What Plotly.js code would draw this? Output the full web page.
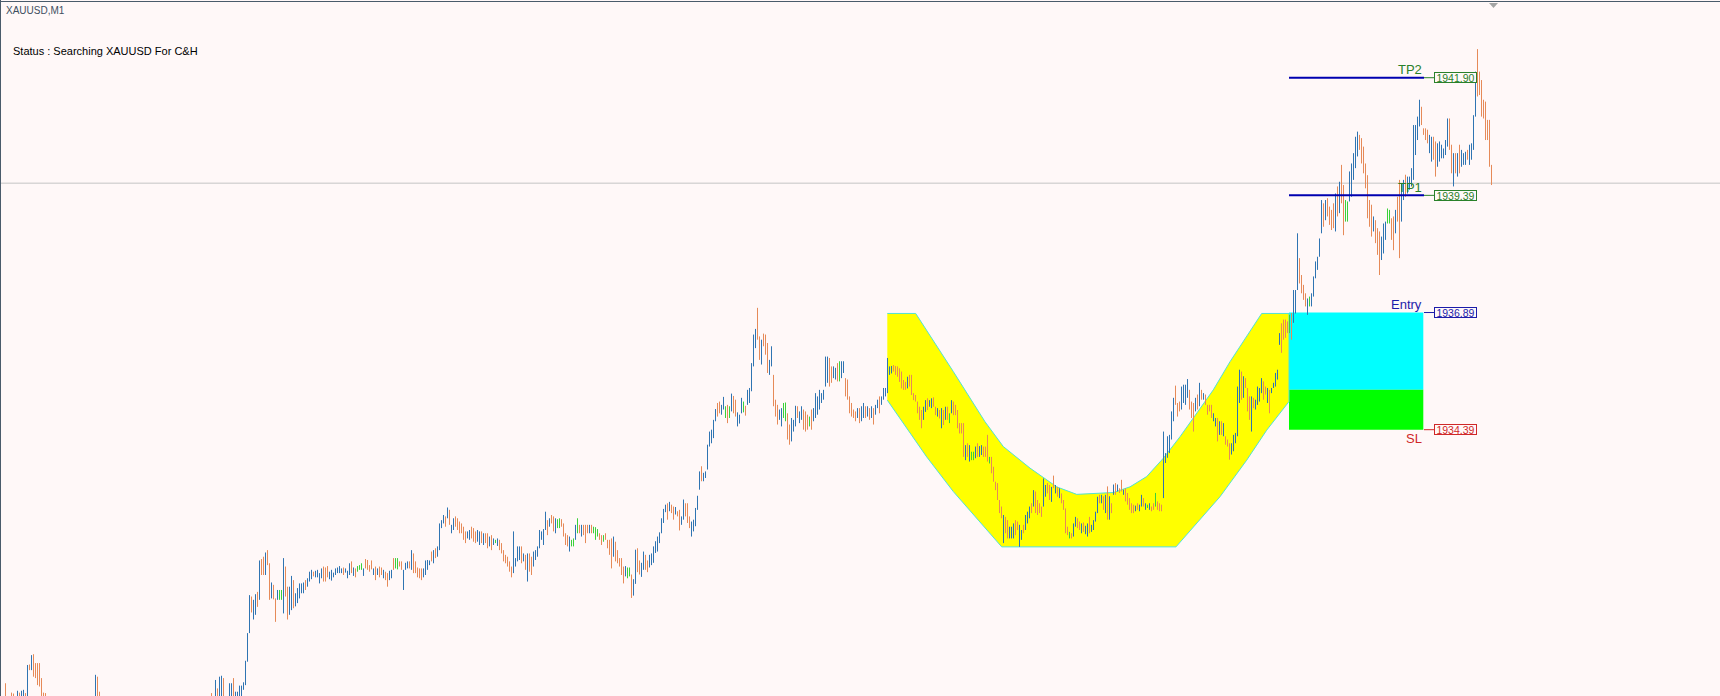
<!DOCTYPE html>
<html><head><meta charset="utf-8">
<script src="https://cdn.plot.ly/plotly-3.0.1.min.js"></script>
<style>html,body{margin:0;padding:0;background:#fff8f8;overflow:hidden}#chart{width:1720px;height:696px}</style>
</head><body><div id="chart"></div>
<script>
// ---------- data ----------
const symbolLabel = "XAUUSD,M1";
const statusText = "Status : Searching XAUUSD For C&H";

// M1 bars, left to right (index = bar number)
const barHigh = [
1928.55,1928.60,1928.98,1928.62,1928.58,1928.78,1928.76,1928.65,1928.82,1928.78,
1928.82,1928.84,1928.77,1929.37,1929.38,1929.58,1929.60,1929.41,1929.41,1929.41,
1929.09,1928.78,1928.77,1928.60,1928.52,1928.55,1928.48,1928.40,1928.45,1928.50,
1928.42,1928.35,1928.30,1928.38,1928.44,1928.40,1928.33,1928.28,1928.36,1928.45,
1928.52,1928.47,1928.55,1928.60,1928.58,1928.62,1928.66,1929.16,1929.12,1928.80,
1928.62,1928.55,1928.50,1928.46,1928.40,1928.35,1928.42,1928.38,1928.30,1928.25,
1928.20,1928.28,1928.33,1928.30,1928.24,1928.18,1928.12,1928.20,1928.26,1928.22,
1928.15,1928.10,1928.16,1928.24,1928.30,1928.26,1928.20,1928.14,1928.08,1928.15,
1928.22,1928.28,1928.34,1928.30,1928.25,1928.32,1928.38,1928.44,1928.40,1928.35,
1928.42,1928.48,1928.45,1928.50,1928.55,1928.52,1928.46,1928.40,1928.45,1928.52,
1928.58,1928.55,1928.60,1928.64,1928.62,1928.77,1928.62,1929.05,1928.87,1929.12,
1929.14,1929.09,1928.68,1928.66,1928.98,1928.98,1929.09,1928.80,1928.80,1928.93,
1928.93,1929.00,1929.46,1930.05,1930.86,1930.83,1930.76,1930.88,1930.93,1931.60,
1931.63,1931.68,1931.77,1931.82,1931.54,1931.13,1931.08,1930.79,1930.97,1930.97,
1930.97,1931.65,1931.47,1931.04,1931.04,1931.27,1931.18,1930.90,1931.01,1931.11,
1931.11,1931.13,1931.18,1931.22,1931.36,1931.40,1931.36,1931.38,1931.40,1931.33,
1931.43,1931.47,1931.45,1931.48,1931.36,1931.40,1931.34,1931.43,1931.45,1931.48,
1931.43,1931.45,1931.43,1931.38,1931.54,1931.58,1931.45,1931.43,1931.48,1931.50,
1931.54,1931.43,1931.63,1931.61,1931.50,1931.60,1931.43,1931.47,1931.43,1931.47,
1931.45,1931.40,1931.36,1931.33,1931.38,1931.40,1931.65,1931.65,1931.65,1931.58,
1931.58,1931.40,1931.55,1931.58,1931.58,1931.82,1931.75,1931.58,1931.45,1931.43,
1931.43,1931.43,1931.60,1931.61,1931.60,1931.79,1931.82,1931.86,1931.90,1932.39,
1932.46,1932.57,1932.54,1932.73,1932.68,1932.36,1932.50,1932.54,1932.50,1932.43,
1932.39,1932.32,1932.22,1932.22,1932.25,1932.32,1932.29,1932.22,1932.25,1932.22,
1932.22,1932.18,1932.18,1932.18,1932.11,1932.14,1932.07,1932.04,1932.07,1932.04,
1931.97,1931.82,1931.72,1931.68,1931.58,1931.47,1932.22,1931.65,1931.90,1931.90,
1931.90,1931.75,1931.72,1931.75,1931.75,1931.68,1931.79,1931.82,1931.90,1932.25,
1932.22,1932.27,1932.64,1932.46,1932.50,1932.57,1932.54,1932.50,1932.48,1932.50,
1932.48,1932.39,1932.18,1932.14,1932.11,1932.04,1932.07,1932.36,1932.50,1932.36,
1932.36,1932.36,1932.36,1932.36,1932.36,1932.36,1932.32,1932.31,1932.27,1932.18,
1932.14,1932.14,1932.18,1932.04,1932.04,1932.07,1932.11,1932.00,1931.82,1931.65,
1931.65,1931.47,1931.48,1931.45,1931.45,1931.30,1931.20,1931.83,1931.86,1931.60,
1931.55,1931.79,1931.72,1931.60,1931.72,1931.75,1931.90,1932.01,1932.11,1932.20,
1932.50,1932.70,1932.79,1932.82,1932.85,1932.79,1932.75,1932.74,1932.65,1932.68,
1932.54,1932.90,1932.82,1932.82,1932.54,1932.43,1932.47,1932.72,1932.98,1933.50,
1933.61,1933.47,1933.50,1934.07,1934.35,1934.39,1934.60,1934.83,1934.96,1934.99,
1934.92,1935.09,1934.89,1934.92,1934.89,1935.16,1935.11,1935.03,1934.76,1934.71,
1935.07,1934.99,1934.90,1935.24,1935.28,1935.81,1936.42,1936.54,1936.99,1936.38,
1936.31,1936.44,1936.42,1936.24,1935.88,1936.17,1935.56,1935.03,1934.92,1934.82,
1934.85,1934.96,1934.97,1934.74,1934.50,1934.64,1934.60,1934.90,1934.89,1934.78,
1934.89,1934.82,1934.78,1934.71,1934.67,1934.82,1934.85,1935.17,1935.10,1935.24,
1935.17,1935.24,1935.95,1935.95,1935.92,1935.74,1935.74,1935.71,1935.81,1935.85,
1935.85,1935.85,1935.49,1935.46,1935.10,1934.96,1934.82,1934.78,1934.85,1934.85,
1934.89,1934.96,1934.89,1934.89,1934.85,1934.89,1934.85,1934.92,1935.03,1935.10,
1935.10,1935.28,1935.28,1935.92,1935.74,1935.75,1935.77,1935.75,1935.74,1935.70,
1935.63,1935.45,1935.41,1935.52,1935.56,1935.56,1935.17,1935.13,1934.99,1934.88,
1934.81,1934.88,1935.02,1935.06,1935.02,1935.06,1935.08,1934.88,1934.85,1934.81,
1934.85,1934.81,1934.88,1934.88,1934.74,1935.02,1934.99,1934.92,1934.81,1934.53,
1934.53,1934.53,1934.06,1934.10,1934.06,1933.92,1933.92,1934.03,1934.10,1934.04,
1934.06,1934.03,1934.03,1934.28,1933.81,1933.81,1933.60,1933.28,1933.25,1932.89,
1932.75,1932.57,1932.53,1932.46,1932.32,1932.32,1932.39,1932.46,1932.43,1932.36,
1932.25,1932.36,1932.57,1932.64,1932.75,1932.82,1933.10,1933.07,1932.89,1932.82,
1932.75,1933.35,1933.21,1933.25,1933.21,1933.17,1933.41,1933.21,1933.17,1933.14,
1933.03,1932.89,1932.71,1932.32,1932.21,1932.18,1932.39,1932.53,1932.50,1932.43,
1932.39,1932.41,1932.34,1932.39,1932.53,1932.36,1932.46,1932.64,1932.96,1933.00,
1933.00,1932.97,1933.00,1933.18,1932.97,1932.82,1933.22,1933.25,1933.22,1933.14,
1933.32,1933.11,1933.14,1933.04,1932.93,1932.82,1932.79,1932.77,1932.82,1932.79,
1933.00,1932.93,1932.82,1932.79,1932.82,1932.75,1932.82,1933.04,1932.86,1932.82,
1932.79,1934.35,1933.89,1934.25,1934.28,1934.78,1935.07,1935.33,1934.96,1934.99,
1935.31,1935.35,1935.35,1935.47,1935.24,1934.99,1934.96,1935.07,1935.14,1935.39,
1935.24,1935.17,1935.14,1934.92,1934.92,1934.92,1934.74,1934.64,1934.64,1934.57,
1934.57,1934.53,1934.25,1934.18,1934.10,1934.10,1934.28,1934.32,1935.31,1935.67,
1935.63,1935.53,1935.49,1935.28,1935.10,1935.10,1935.07,1935.03,1935.31,1935.28,
1935.49,1935.42,1935.31,1935.28,1935.24,1935.28,1935.39,1935.60,1935.67,1936.45,
1936.66,1936.74,1936.74,1936.70,1936.84,1936.88,1937.37,1937.37,1938.58,1938.05,
1937.69,1937.48,1937.30,1937.19,1937.23,1937.30,1937.66,1937.98,1938.08,1938.47,
1939.29,1939.22,1939.29,1939.33,1939.15,1939.08,1939.22,1939.43,1939.58,1939.68,
1940.04,1939.61,1939.29,1939.26,1939.90,1940.07,1940.29,1940.64,1940.75,1940.68,
1940.61,1940.43,1940.07,1939.82,1939.29,1939.19,1938.94,1938.86,1938.69,1938.62,
1938.51,1938.79,1938.83,1939.11,1939.08,1938.90,1938.94,1939.08,1939.36,1939.72,
1939.65,1939.72,1939.83,1939.79,1939.79,1939.97,1940.89,1940.89,1941.07,1941.43,
1941.28,1940.82,1940.82,1940.79,1940.68,1940.64,1940.64,1940.54,1940.50,1940.54,
1940.47,1940.39,1940.57,1941.03,1941.03,1940.47,1940.29,1940.29,1940.29,1940.47,
1940.36,1940.29,1940.32,1940.36,1940.47,1940.50,1941.10,1942.03,1942.51,1942.03,
1941.85,1941.43,1941.39,1941.00,1941.00,1940.04
];
const barLow = [
1928.30,1928.35,1928.45,1928.40,1928.38,1928.50,1928.50,1928.45,1928.55,1928.55,
1928.55,1928.60,1928.55,1928.60,1929.26,1929.26,1929.12,1929.09,1928.94,1928.91,
1928.60,1928.50,1928.45,1928.35,1928.30,1928.28,1928.20,1928.15,1928.18,1928.25,
1928.12,1928.05,1928.02,1928.10,1928.16,1928.12,1928.08,1928.00,1928.06,1928.15,
1928.22,1928.20,1928.25,1928.30,1928.32,1928.35,1928.38,1928.55,1928.50,1928.45,
1928.35,1928.30,1928.22,1928.18,1928.10,1928.05,1928.12,1928.08,1928.00,1927.95,
1927.90,1927.98,1928.05,1928.02,1927.96,1927.90,1927.85,1927.92,1927.98,1927.95,
1927.88,1927.82,1927.88,1927.95,1928.00,1927.98,1927.92,1927.86,1927.80,1927.85,
1927.94,1928.00,1928.06,1928.04,1927.98,1928.05,1928.10,1928.15,1928.12,1928.08,
1928.14,1928.20,1928.18,1928.22,1928.28,1928.26,1928.20,1928.14,1928.18,1928.24,
1928.30,1928.28,1928.32,1928.36,1928.38,1928.45,1928.40,1928.55,1928.55,1928.60,
1928.65,1928.60,1928.40,1928.40,1928.55,1928.60,1928.60,1928.55,1928.55,1928.60,
1928.62,1928.84,1928.94,1929.44,1930.05,1930.49,1930.34,1930.44,1930.61,1930.76,
1931.29,1931.29,1931.29,1931.50,1930.76,1930.79,1930.77,1930.29,1930.76,1930.76,
1930.76,1930.47,1930.83,1930.34,1930.44,1930.54,1930.58,1930.62,1930.69,1930.79,
1930.90,1930.90,1930.97,1931.04,1931.15,1931.20,1931.26,1931.24,1931.24,1931.11,
1931.22,1931.15,1931.15,1931.24,1931.20,1931.17,1931.24,1931.29,1931.33,1931.33,
1931.33,1931.29,1931.34,1931.22,1931.29,1931.33,1931.27,1931.24,1931.36,1931.40,
1931.40,1931.27,1931.43,1931.40,1931.36,1931.41,1931.29,1931.18,1931.29,1931.24,
1931.29,1931.22,1931.18,1931.04,1931.18,1931.22,1931.40,1931.43,1931.41,1931.47,
1931.40,1930.97,1931.40,1931.43,1931.43,1931.40,1931.33,1931.33,1931.24,1931.22,
1931.18,1931.24,1931.29,1931.40,1931.50,1931.58,1931.54,1931.65,1931.68,1931.82,
1932.29,1932.39,1932.32,1932.50,1932.36,1932.18,1932.25,1932.32,1932.25,1932.18,
1932.18,1932.04,1931.97,1932.07,1932.04,1932.07,1932.00,1931.97,1932.00,1931.93,
1931.97,1931.93,1931.97,1931.86,1931.90,1931.82,1931.93,1931.97,1931.91,1931.82,
1931.75,1931.58,1931.54,1931.47,1931.36,1931.24,1931.33,1931.47,1931.58,1931.61,
1931.54,1931.58,1931.40,1931.15,1931.36,1931.29,1931.47,1931.61,1931.68,1931.86,
1932.04,1931.93,1932.25,1932.14,1932.32,1932.39,1932.22,1932.18,1932.29,1932.29,
1932.32,1932.11,1931.93,1931.90,1931.79,1931.90,1931.90,1932.04,1932.18,1932.18,
1932.11,1932.14,1931.97,1932.18,1932.18,1932.18,1932.18,1932.04,1932.11,1932.04,
1931.93,1932.00,1932.04,1931.86,1931.72,1931.43,1931.68,1931.58,1931.54,1931.47,
1931.29,1931.11,1931.26,1931.22,1931.26,1930.80,1930.85,1931.10,1931.35,1931.30,
1931.25,1931.40,1931.40,1931.35,1931.45,1931.50,1931.55,1931.76,1931.79,1931.97,
1932.18,1932.40,1932.63,1932.47,1932.65,1932.61,1932.47,1932.58,1932.54,1932.24,
1932.36,1932.47,1932.54,1932.40,1932.29,1932.11,1932.22,1932.33,1932.68,1933.11,
1933.29,1933.29,1933.36,1933.54,1934.03,1934.10,1934.21,1934.57,1934.67,1934.74,
1934.71,1934.82,1934.64,1934.53,1934.64,1934.78,1934.74,1934.67,1934.46,1934.52,
1934.74,1934.76,1934.69,1934.92,1934.96,1935.21,1935.74,1936.13,1936.31,1935.88,
1935.78,1936.17,1935.99,1935.60,1935.56,1935.74,1934.89,1934.67,1934.50,1934.60,
1934.46,1934.64,1934.57,1934.18,1934.07,1934.14,1934.35,1934.46,1934.64,1934.53,
1934.60,1934.39,1934.35,1934.39,1934.46,1934.39,1934.57,1934.64,1934.71,1934.82,
1934.96,1935.03,1935.31,1935.39,1935.31,1935.39,1935.49,1935.46,1935.42,1935.42,
1935.49,1935.60,1935.10,1935.03,1934.74,1934.67,1934.64,1934.57,1934.64,1934.53,
1934.57,1934.64,1934.64,1934.67,1934.60,1934.64,1934.50,1934.71,1934.85,1934.74,
1934.92,1935.03,1935.10,1935.17,1935.56,1935.59,1935.63,1935.56,1935.52,1935.41,
1935.27,1935.24,1935.24,1935.27,1935.31,1935.13,1935.02,1934.99,1934.74,1934.60,
1934.42,1934.60,1934.77,1934.81,1934.88,1934.85,1934.88,1934.70,1934.67,1934.63,
1934.42,1934.49,1934.60,1934.60,1934.53,1934.74,1934.70,1934.70,1934.42,1934.31,
1934.31,1933.81,1933.74,1933.81,1933.71,1933.74,1933.74,1933.78,1933.81,1933.81,
1933.85,1933.81,1933.81,1933.71,1933.67,1933.46,1933.28,1933.10,1932.89,1932.61,
1932.50,1931.97,1932.18,1932.07,1932.07,1932.07,1932.07,1932.14,1932.25,1931.89,
1932.04,1932.18,1932.25,1932.39,1932.50,1932.61,1932.75,1932.61,1932.57,1932.61,
1932.53,1932.75,1932.96,1933.03,1932.89,1932.85,1933.14,1933.03,1932.96,1932.93,
1932.82,1932.68,1932.18,1932.14,1932.07,1932.07,1932.11,1932.32,1932.29,1932.25,
1932.18,1932.21,1932.16,1932.11,1932.18,1932.21,1932.25,1932.43,1932.61,1932.82,
1932.82,1932.68,1932.61,1932.47,1932.47,1932.61,1933.00,1933.00,1933.07,1933.04,
1933.07,1933.00,1932.86,1932.79,1932.68,1932.61,1932.61,1932.65,1932.68,1932.65,
1932.75,1932.75,1932.68,1932.72,1932.68,1932.65,1932.68,1932.75,1932.68,1932.65,
1932.65,1932.93,1933.68,1933.79,1933.89,1934.18,1934.57,1934.92,1934.67,1934.78,
1934.82,1934.96,1934.92,1935.07,1934.82,1934.64,1934.35,1934.78,1934.82,1934.89,
1935.03,1935.03,1934.92,1934.71,1934.78,1934.64,1934.57,1934.46,1934.14,1934.28,
1934.28,1934.25,1934.07,1934.03,1933.75,1933.86,1933.93,1934.10,1934.25,1934.96,
1935.03,1935.07,1935.28,1934.78,1934.60,1934.35,1934.85,1934.82,1934.92,1934.99,
1935.17,1935.03,1935.14,1934.96,1934.74,1935.17,1935.28,1935.31,1935.46,1936.20,
1936.03,1936.31,1936.35,1936.45,1936.45,1936.31,1936.67,1936.87,1937.37,1937.51,
1937.30,1937.16,1937.02,1936.84,1937.02,1937.02,1937.23,1937.62,1937.80,1938.08,
1938.58,1938.72,1938.86,1938.94,1938.76,1938.65,1938.69,1938.62,1938.94,1939.01,
1939.22,1938.54,1938.83,1938.83,1939.26,1939.36,1939.72,1939.97,1940.22,1940.36,
1940.07,1939.86,1939.54,1938.90,1938.72,1938.51,1938.62,1938.37,1938.12,1937.69,
1938.01,1938.15,1938.44,1938.79,1938.79,1938.44,1938.22,1938.58,1938.83,1938.05,
1938.83,1939.29,1939.36,1939.43,1939.51,1939.58,1939.72,1940.25,1940.57,1940.86,
1940.89,1940.68,1940.57,1940.50,1940.29,1940.11,1940.15,1939.79,1940.00,1940.11,
1940.18,1940.18,1940.25,1940.43,1940.36,1939.86,1939.58,1939.86,1939.79,1939.86,
1940.00,1940.04,1940.04,1940.15,1940.04,1940.15,1940.36,1941.07,1941.50,1941.53,
1941.07,1941.03,1940.57,1940.57,1940.00,1939.61
];
// u = bar up, d = bar down, g = unchanged
const barDir = [
"dududdduud","uudududddd","ddddudduud","dduuudduuu","uduuduuudd",
"ddudduuddd","uuuddduuud","duuuuddduu","uuudduuudd","uuduuddduu",
"uduudduudu","udduuuduuu","uuuuuduudu","ddudduddug","gudduuduuu",
"uuduuuduuu","uddduuuuuu","uduuududgg","guddddudud","dudduudggd",
"duuududddd","duuuududuu","uududuuddd","ddduuddduu","duddudugud",
"dddddduuuu","dududduuuu","uuududdugg","dddduggugd","udddudgggd",
"dgdddduddd","dduggduudd","uudduuuuuu","uuududdudd","uuddduuuuu",
"duuuuuuudd","uugdgudduu","ugduuuuudd","uddduudddu","uggdduuudu",
"udddgduuuu","uuuudduudg","uuddddddud","uudududuud","uuuuuudddd",
"dddudddddd","duuduuddud","ududgudddd","dduduggudu","udddgddddd",
"dudduuuddu","uduuududdd","duuddududu","ddddgduudd","uduuduuuud",
"ududududud","dudddddudu","uduguddgdd","duuuuuuddd","uuuudddudu",
"dudddduudu","duddduuuuu","duddduduuu","udduduuuuu","ddddgduuud",
"ddduguuuuu","ududdddudu","ddgguuuuud","dddddduddd","uuuggddudd",
"uuduuuuuuu","dddduudduu","uuuuddudud","uuuduuuudd","dddddd"
].join("").split("");

// cup (rounding bottom) outline: bar position and price of each vertex
const cupBar = [442.9,457.1,475.9,491.75,500.9,514.25,527.6,537.6,555.9,564.25,572.6,580.9,589.25,597.6,605.9,614.25,622.6,630.1,643.75,
                643.75,632.6,622.6,609.25,597.6,587.25,500.1,489.25,475.9,462.6,450.9,442.9];
const cupPrice = [1936.87,1936.87,1935.63,1934.56,1934.03,1933.57,1933.17,1933.01,1933.05,1933.17,1933.39,1933.78,1934.24,1934.74,1935.24,1935.84,1936.37,1936.87,1936.87,
                  1934.99,1934.38,1933.74,1932.96,1932.39,1931.89,1931.89,1932.43,1933.07,1933.81,1934.53,1935.02];

// trade levels
const entryPrice = 1936.89, slPrice = 1934.39, tp1Price = 1939.39, tp2Price = 1941.90;
const zoneMidPrice = 1935.24;
const bidPrice = 1939.65;
const tradeStartBar = 643.75, tradeEndBar = 711.25;
const levelNames = ["TP2", "TP1", "Entry", "SL"];
const levelPrices = [tp2Price, tp1Price, entryPrice, slPrice];
const levelTexts = ["1941.90", "1939.39", "1936.89", "1934.39"];

// ---------- drawing ----------
const BG = "#fff8f8";
const UP = "#2f74b2", DOWN = "#e68a58", FLAT = "#3ad23a";
const GREEN_TXT = "#2a812a", BLUE_TXT = "#1c1caa", RED_TXT = "#d02828";
const levelColors = [GREEN_TXT, GREEN_TXT, BLUE_TXT, RED_TXT];
const levelShift = [8, 8, 8, -9];

const n = Math.min(barHigh.length, barLow.length, barDir.length);
function barTrace(code, color) {
  const xs = [], ys = [];
  for (let i = 0; i < n; i++) {
    if (barDir[i] === code) { xs.push(i, i, null); ys.push(barLow[i], barHigh[i], null); }
  }
  return {type: "scatter", mode: "lines", x: xs, y: ys, line: {color: color, width: 1},
          hoverinfo: "skip", connectgaps: false};
}

const traces = [
  {type: "scatter", mode: "lines", x: cupBar, y: cupPrice, fill: "toself",
   fillcolor: "#ffff00", line: {color: "#52e2d4", width: 1}, hoverinfo: "skip"},
  barTrace("u", UP),
  barTrace("d", DOWN),
  barTrace("g", FLAT)
];

const W = 1720, H = 696;
const px = v => v / W, py = v => 1 - v / H;

const shapes = [
  // bid line
  {type: "line", xref: "paper", yref: "y", x0: 0, x1: 1, y0: bidPrice, y1: bidPrice,
   line: {color: "#c4c4c4", width: 1}, layer: "below"},
  // entry zone and stop zone
  {type: "rect", xref: "x", yref: "y", x0: tradeStartBar, x1: tradeEndBar - 0.35, y0: zoneMidPrice, y1: entryPrice,
   fillcolor: "#00ffff", line: {width: 0}, layer: "below"},
  {type: "rect", xref: "x", yref: "y", x0: tradeStartBar, x1: tradeEndBar - 0.35, y0: slPrice, y1: zoneMidPrice,
   fillcolor: "#00ff00", line: {width: 0}, layer: "below"},
  // TP lines
  {type: "line", xref: "x", yref: "y", x0: tradeStartBar, x1: tradeEndBar, y0: tp2Price, y1: tp2Price,
   line: {color: "#0000b0", width: 2}, layer: "above"},
  {type: "line", xref: "x", yref: "y", x0: tradeStartBar, x1: tradeEndBar, y0: tp1Price, y1: tp1Price,
   line: {color: "#0000b0", width: 2}, layer: "above"},
  // frame
  {type: "line", xref: "paper", yref: "paper", x0: 0, x1: 1, y0: py(1.5), y1: py(1.5),
   line: {color: "#4a5b6b", width: 1}},
  {type: "line", xref: "paper", yref: "paper", x0: px(0.5), x1: px(0.5), y0: 0, y1: 1,
   line: {color: "#4a5b6b", width: 1}},
  // chart shift marker
  {type: "path", xref: "paper", yref: "paper",
   path: `M ${px(1489)} ${py(3)} L ${px(1498)} ${py(3)} L ${px(1493.5)} ${py(8)} Z`,
   fillcolor: "#a4a4a4", line: {width: 0}}
];

const annotations = [
  {xref: "paper", yref: "paper", x: px(4), y: py(10), xanchor: "left", yanchor: "middle",
   text: symbolLabel, showarrow: false, font: {family: "Liberation Sans, Arial", size: 10, color: "#3e4e60"}},
  {xref: "paper", yref: "paper", x: px(11), y: py(51), xanchor: "left", yanchor: "middle",
   text: statusText, showarrow: false, font: {family: "Liberation Sans, Arial", size: 11, color: "#000000"}}
];

levelNames.forEach((name, i) => {
  const p = levelPrices[i], c = levelColors[i];
  shapes.push({type: "line", xref: "x", yref: "y", x0: tradeEndBar, x1: tradeEndBar + 5, y0: p, y1: p,
               line: {color: c, width: 1}, layer: "above"});
  annotations.push({xref: "x", yref: "y", x: tradeEndBar + 15.7, y: p, xanchor: "center", yanchor: "middle",
    text: levelTexts[i], showarrow: false, width: 41, height: 9, borderpad: 0, borderwidth: 1,
    bordercolor: c, bgcolor: BG, font: {family: "Liberation Sans, Arial", size: 10.5, color: c}});
  annotations.push({xref: "x", yref: "y", x: tradeEndBar, y: p, xanchor: "right", yanchor: "middle",
    yshift: levelShift[i], text: name, showarrow: false,
    font: {family: "Liberation Sans, Arial", size: 13, color: c}});
});

const layout = {
  width: W, height: H,
  margin: {l: 0, r: 0, t: 0, b: 0, pad: 0},
  paper_bgcolor: BG, plot_bgcolor: BG,
  showlegend: false, hovermode: false,
  xaxis: {range: [-0.75, 859.25], visible: false, showgrid: false, zeroline: false, fixedrange: true},
  yaxis: {range: [1928.708, 1943.558], visible: false, showgrid: false, zeroline: false, fixedrange: true},
  shapes: shapes, annotations: annotations
};

Plotly.newPlot("chart", traces, layout, {staticPlot: true, displayModeBar: false});
</script>
</body></html>
